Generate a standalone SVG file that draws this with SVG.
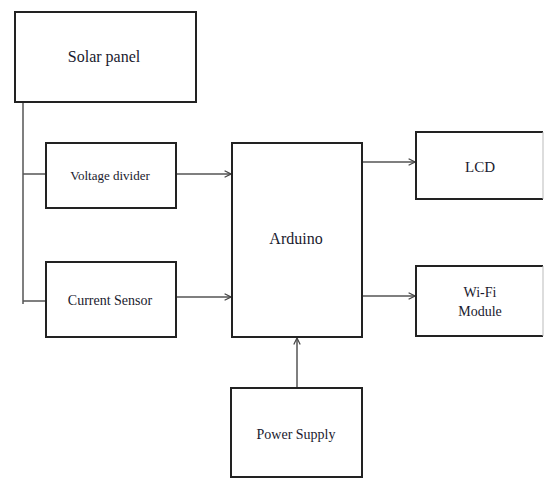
<svg xmlns="http://www.w3.org/2000/svg" width="544" height="479" viewBox="0 0 544 479">
<defs>
<marker id="arr" viewBox="0 0 10 10" refX="9" refY="5" markerWidth="8" markerHeight="8" markerUnits="userSpaceOnUse" orient="auto">
<path d="M1,1 L9,5 L1,9" fill="none" stroke="#444" stroke-width="1.5"/>
</marker>
</defs>
<style>
.box{fill:#fff;stroke:#222;stroke-width:2}
.lbl{font-family:"Liberation Serif","Times New Roman",serif;fill:#1a1a2e;text-anchor:middle}
.con{fill:none;stroke:#555;stroke-width:1.5}
</style>
<rect width="544" height="479" fill="#fff"/>
<g id="connectors">
<path class="con" d="M23,102 V304"/>
<path class="con" d="M23,174 H46"/>
<path class="con" d="M23,301 H46"/>
<path class="con" d="M176,174 H231" marker-end="url(#arr)"/>
<path class="con" d="M176,297 H231" marker-end="url(#arr)"/>
<path class="con" d="M362,162 H415" marker-end="url(#arr)"/>
<path class="con" d="M362,296 H415" marker-end="url(#arr)"/>
<path class="con" d="M297,388 V338" marker-end="url(#arr)"/>
</g>
<g id="solar">
<rect class="box" x="15" y="12" width="181" height="90"/>
<text class="lbl" x="104" y="62" font-size="16">Solar panel</text>
</g>
<g id="voltage">
<rect class="box" x="46" y="143" width="130" height="65"/>
<text class="lbl" x="110" y="180" font-size="13">Voltage divider</text>
</g>
<g id="current">
<rect class="box" x="46" y="262" width="130" height="75"/>
<text class="lbl" x="110" y="305" font-size="14">Current Sensor</text>
</g>
<g id="arduino">
<rect class="box" x="232" y="143" width="130" height="194"/>
<text class="lbl" x="296" y="244" font-size="16">Arduino</text>
</g>
<g id="lcd">
<path class="box" d="M543,132 H416 V199 H543"/>
<path d="M543,132 V199" stroke="#bbb" stroke-width="1"/>
<text class="lbl" x="480" y="172" font-size="15">LCD</text>
</g>
<g id="wifi">
<path class="box" d="M543,266 H416 V336 H543"/>
<path d="M543,266 V336" stroke="#bbb" stroke-width="1"/>
<text class="lbl" x="480" y="297" font-size="14">Wi-Fi</text>
<text class="lbl" x="480" y="316" font-size="14">Module</text>
</g>
<g id="power">
<rect class="box" x="231" y="388" width="131" height="89"/>
<text class="lbl" x="296" y="439" font-size="14">Power Supply</text>
</g>
</svg>
